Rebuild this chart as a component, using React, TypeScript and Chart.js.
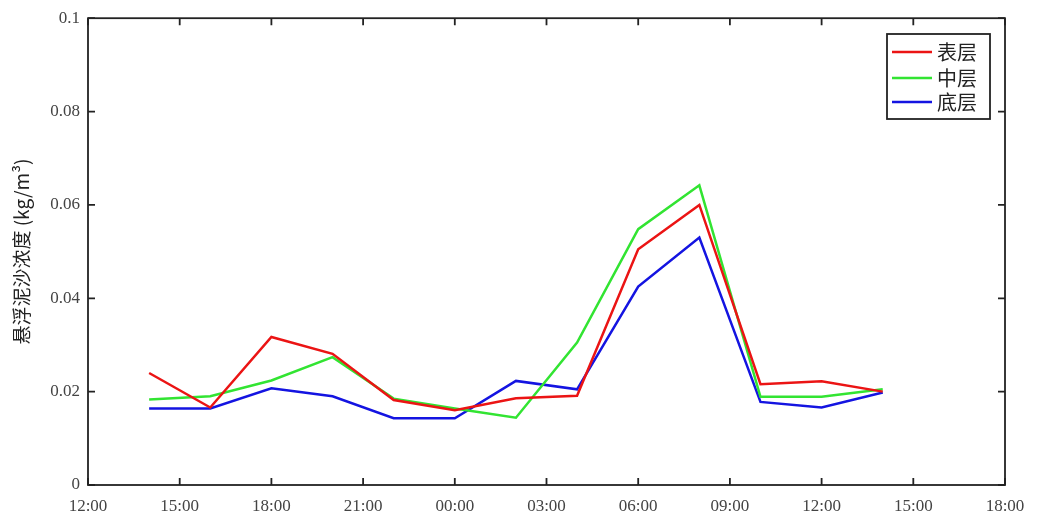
import React, { useEffect, useRef } from 'react';
import { Chart, registerables } from 'chart.js';

Chart.register(...registerables);

// hours after 12:00 of the first day
const sampleHours = [2, 4, 6, 8, 10, 12, 14, 16, 18, 20, 22, 24, 26];
const surfaceLayer = [0.024, 0.0166, 0.0317, 0.0281, 0.0182, 0.016, 0.0186, 0.0191, 0.0505, 0.06, 0.0216, 0.0222, 0.02];
const middleLayer = [0.0183, 0.019, 0.0224, 0.0274, 0.0185, 0.0164, 0.0144, 0.0305, 0.0548, 0.0642, 0.0189, 0.0189, 0.0205];
const bottomLayer = [0.0164, 0.0164, 0.0207, 0.019, 0.0143, 0.0143, 0.0223, 0.0205, 0.0425, 0.053, 0.0178, 0.0166, 0.0198];
const seriesNames = ['表层', '中层', '底层'];
const xTickLabels = ['12:00', '15:00', '18:00', '21:00', '00:00', '03:00', '06:00', '09:00', '12:00', '15:00', '18:00'];
const yTickLabels = ['0', '0.02', '0.04', '0.06', '0.08', '0.1'];
const yTitle = '悬浮泥沙浓度 (kg/m³)';

const colors = ['rgb(235,20,20)', 'rgb(50,228,50)', 'rgb(20,20,225)'];
const serif = '"Liberation Serif", "DejaVu Serif", serif';
const cjk = '"Noto Sans CJK SC", sans-serif';

const boxPlugin = {
  id: 'boxPlugin',
  afterDraw(chart: any) {
    const { ctx, chartArea: a, scales } = chart;
    ctx.save();
    ctx.strokeStyle = '#222';
    ctx.lineWidth = 1.8;
    ctx.strokeRect(a.left, a.top, a.right - a.left, a.bottom - a.top);
    const tl = 7;
    ctx.beginPath();
    scales.x.ticks.forEach((t: any) => {
      const px = scales.x.getPixelForValue(t.value);
      ctx.moveTo(px, a.bottom);
      ctx.lineTo(px, a.bottom - tl);
      ctx.moveTo(px, a.top);
      ctx.lineTo(px, a.top + tl);
    });
    scales.y.ticks.forEach((t: any) => {
      const py = scales.y.getPixelForValue(t.value);
      ctx.moveTo(a.left, py);
      ctx.lineTo(a.left + tl, py);
      ctx.moveTo(a.right, py);
      ctx.lineTo(a.right - tl, py);
    });
    ctx.stroke();

    // legend
    const lx = 887, ly = 34, lw = 103, lh = 85;
    ctx.fillStyle = '#fff';
    ctx.fillRect(lx, ly, lw, lh);
    ctx.lineWidth = 1.8;
    ctx.strokeStyle = '#222';
    ctx.strokeRect(lx, ly, lw, lh);
    const rows = [52, 78, 102];
    chart.data.datasets.forEach((ds: any, i: number) => {
      ctx.strokeStyle = ds.borderColor;
      ctx.lineWidth = 2.5;
      ctx.beginPath();
      ctx.moveTo(lx + 5, rows[i]);
      ctx.lineTo(lx + 45, rows[i]);
      ctx.stroke();
      ctx.fillStyle = '#222';
      ctx.font = '20px ' + cjk;
      ctx.textBaseline = 'middle';
      ctx.textAlign = 'left';
      ctx.fillText(ds.label, lx + 50, rows[i]);
    });
    ctx.restore();
  },
};

export default function App() {
  const ref = useRef<HTMLCanvasElement | null>(null);
  useEffect(() => {
    if (!ref.current) return;
    const mk = (vals: number[]) => sampleHours.map((h, i) => ({ x: h, y: vals[i] }));
    const chart = new Chart(ref.current, {
      type: 'line',
      data: {
        datasets: [surfaceLayer, middleLayer, bottomLayer].map((vals, i) => ({
          label: seriesNames[i],
          data: mk(vals),
          borderColor: colors[i],
          backgroundColor: colors[i],
          borderWidth: 2.5,
          pointRadius: 0,
          tension: 0,
          fill: false,
        })),
      },
      options: {
        animation: false,
        responsive: true,
        maintainAspectRatio: false,
        layout: { padding: { top: 17, right: 33, left: 0, bottom: 0 } },
        plugins: { legend: { display: false }, tooltip: { enabled: false } },
        scales: {
          x: {
            type: 'linear',
            min: 0,
            max: 30,
            ticks: {
              stepSize: 3,
              autoSkip: false,
              maxRotation: 0,
              padding: 11,
              color: '#444',
              font: { family: serif, size: 17 },
              callback: (_v: any, i: number) => xTickLabels[i],
            },
            grid: { drawOnChartArea: false, drawTicks: false },
            border: { display: false },
            afterFit: (s: any) => { s.height = 34; },
          },
          y: {
            min: 0,
            max: 0.1,
            ticks: {
              stepSize: 0.02,
              padding: 8,
              color: '#444',
              font: { family: serif, size: 17 },
              callback: (_v: any, i: number) => yTickLabels[i],
            },
            title: {
              display: true,
              text: yTitle,
              color: '#222',
              font: { family: cjk, size: 19 },
              padding: { top: 10, bottom: 0 },
            },
            grid: { drawOnChartArea: false, drawTicks: false },
            border: { display: false },
            afterFit: (s: any) => { s.width = 88; },
          },
        },
      },
      plugins: [boxPlugin],
    });
    return () => chart.destroy();
  }, []);
  return (
    <div style={{ position: 'fixed', left: 0, top: 0, width: 1038, height: 519, background: '#fff' }}>
      <canvas ref={ref} />
    </div>
  );
}
